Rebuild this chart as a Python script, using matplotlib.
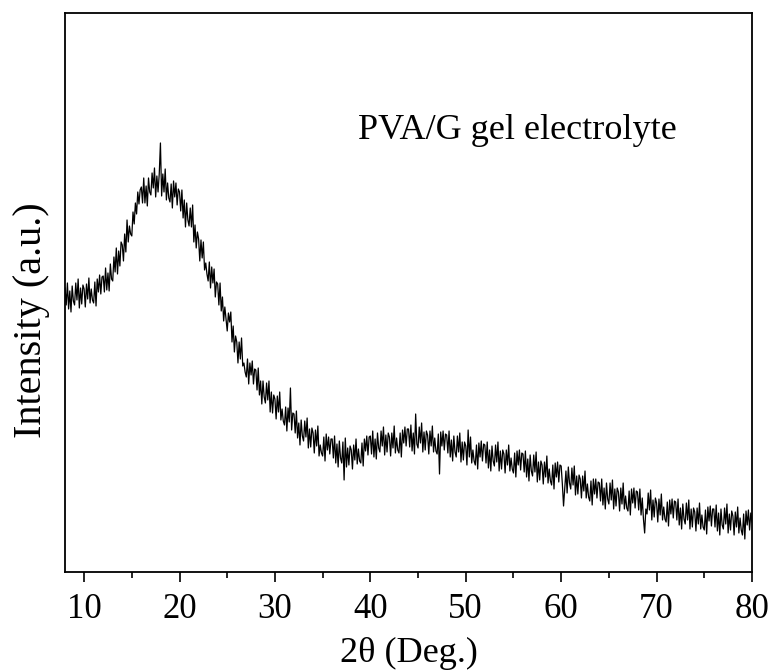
import numpy as np
import matplotlib.pyplot as plt
from matplotlib.ticker import MultipleLocator

# XRD pattern, 2theta from 8 to 80 deg in 0.125 deg steps
two_theta_start = 8.0
two_theta_step = 0.125

intensity = [
    284, 267, 289, 263, 281, 260, 286, 271,   # 8
    267, 289, 272, 293, 264, 284, 268, 287,   # 9
    283, 265, 288, 273, 294, 269, 283, 272,   # 10
    269, 290, 266, 293, 280, 297, 278, 295,   # 11
    296, 280, 304, 282, 299, 281, 308, 293,   # 12
    291, 315, 300, 324, 298, 321, 306, 330,   # 13
    327, 311, 338, 320, 352, 330, 346, 338,   # 14
    336, 360, 348, 369, 358, 380, 368, 382,   # 15
    385, 369, 394, 369, 386, 366, 394, 380,   # 16
    377, 399, 384, 404, 375, 396, 380, 398,   # 17
    429, 376, 398, 380, 403, 372, 389, 374,   # 18
    370, 388, 364, 391, 375, 389, 367, 383,   # 19
    380, 361, 382, 354, 372, 345, 369, 352,   # 20
    346, 364, 345, 367, 330, 347, 324, 340,   # 21
    333, 311, 332, 314, 330, 302, 309, 298,   # 22
    291, 310, 284, 305, 289, 303, 275, 290,   # 23
    288, 267, 289, 261, 275, 251, 265, 253,   # 24
    241, 259, 250, 260, 230, 246, 220, 236,   # 25
    230, 209, 230, 213, 234, 206, 209, 200,   # 26
    195, 213, 188, 209, 197, 211, 188, 203,   # 27
    202, 182, 204, 177, 191, 168, 191, 175,   # 28
    169, 189, 172, 191, 160, 180, 159, 177,   # 29
    173, 153, 176, 160, 180, 152, 163, 151,   # 30
    147, 165, 141, 164, 150, 184, 142, 159,   # 31
    158, 139, 161, 134, 149, 127, 152, 136,   # 32
    131, 151, 135, 154, 124, 143, 125, 144,   # 33
    139, 119, 142, 126, 146, 116, 127, 119,   # 34
    116, 135, 111, 138, 122, 135, 118, 133,   # 35
    133, 114, 136, 109, 128, 105, 131, 114,   # 36
    109, 130, 92, 134, 105, 124, 107, 126,    # 37
    122, 103, 127, 112, 133, 108, 123, 111,   # 38
    109, 129, 106, 133, 121, 136, 117, 135,   # 39
    136, 118, 141, 115, 133, 113, 139, 124,   # 40
    120, 141, 126, 145, 117, 137, 120, 139,   # 41
    135, 116, 139, 124, 146, 119, 134, 122,   # 42
    119, 139, 115, 142, 129, 145, 126, 143,   # 43
    143, 125, 147, 121, 139, 118, 158, 128,   # 44
    124, 145, 129, 149, 120, 140, 122, 141,   # 45
    137, 118, 141, 126, 146, 120, 134, 121,   # 46
    118, 138, 98, 140, 126, 141, 122, 138,    # 47
    137, 119, 141, 115, 132, 111, 136, 120,   # 48
    115, 136, 120, 139, 110, 130, 112, 130,   # 49
    126, 107, 142, 115, 135, 109, 122, 111,   # 50
    107, 127, 103, 129, 115, 131, 111, 128,   # 51
    127, 109, 130, 104, 122, 101, 126, 111,   # 52
    106, 127, 110, 130, 101, 121, 103, 122,   # 53
    118, 99, 122, 107, 127, 101, 114, 103,    # 54
    99, 119, 95, 121, 107, 122, 102, 119,     # 55
    118, 100, 121, 95, 113, 91, 117, 101,     # 56
    96, 117, 100, 120, 90, 110, 92, 111,      # 57
    107, 88, 110, 95, 116, 89, 103, 91,       # 58
    87, 107, 83, 109, 95, 110, 90, 107,       # 59
    106, 88, 66, 83, 101, 79, 105, 89,        # 60
    83, 104, 87, 106, 77, 96, 78, 97,         # 61
    93, 74, 96, 81, 101, 74, 88, 75,          # 62
    71, 91, 67, 93, 78, 93, 74, 90,           # 63
    89, 71, 93, 67, 84, 63, 89, 73,           # 64
    68, 89, 72, 92, 63, 83, 66, 84,           # 65
    80, 61, 84, 68, 89, 63, 76, 64,           # 66
    61, 81, 57, 83, 69, 84, 64, 81,           # 67
    80, 62, 83, 57, 74, 53, 39, 63,           # 68
    58, 79, 62, 82, 52, 72, 55, 74,           # 69
    69, 50, 73, 57, 78, 52, 65, 53,           # 70
    50, 70, 46, 72, 58, 73, 54, 71,           # 71
    70, 52, 73, 47, 64, 43, 68, 53,           # 72
    48, 69, 52, 72, 43, 63, 45, 64,           # 73
    60, 41, 64, 48, 69, 43, 57, 45,           # 74
    42, 62, 38, 65, 51, 66, 46, 63,           # 75
    63, 45, 67, 41, 59, 37, 63, 47,           # 76
    43, 64, 48, 68, 39, 58, 42, 61,           # 77
    56, 37, 60, 45, 65, 39, 54, 42,           # 78
    37, 58, 33, 61, 47, 62, 42, 59,           # 79
    50,                                       # 80
]

x_ticks = [10, 20, 30, 40, 50, 60, 70, 80]

two_theta = two_theta_start + two_theta_step * np.arange(len(intensity))

plt.rcParams['font.family'] = ['Liberation Serif', 'DejaVu Serif']

fig = plt.figure(figsize=(7.75, 6.72), dpi=100)
ax = fig.add_axes([0.0839, 0.1488, 0.8864, 0.8319])

ax.plot(two_theta, intensity, color="black", linewidth=0.9)

ax.set_xlim(8, 80)
ax.set_ylim(0, 559)
ax.set_xticks(x_ticks)
ax.xaxis.set_minor_locator(MultipleLocator(5))
ax.set_yticks([])
ax.tick_params(axis="x", which="major", direction="out", length=7, width=1.2, labelsize=25, pad=8)
ax.tick_params(axis="x", which="minor", direction="out", length=4, width=1.2)
for sp in ax.spines.values():
    sp.set_linewidth(1.3)

ax.set_xlabel("2\u03b8 (Deg.)", fontsize=26, labelpad=8)
ax.set_ylabel("Intensity (a.u.)", fontsize=29)
ax.yaxis.set_label_coords(-0.022, 0.451)
ax.text(38.7, 0.79 * 559, "PVA/G gel electrolyte", fontsize=26, va="center", ha="left")

fig.savefig("out.png", dpi=100)
